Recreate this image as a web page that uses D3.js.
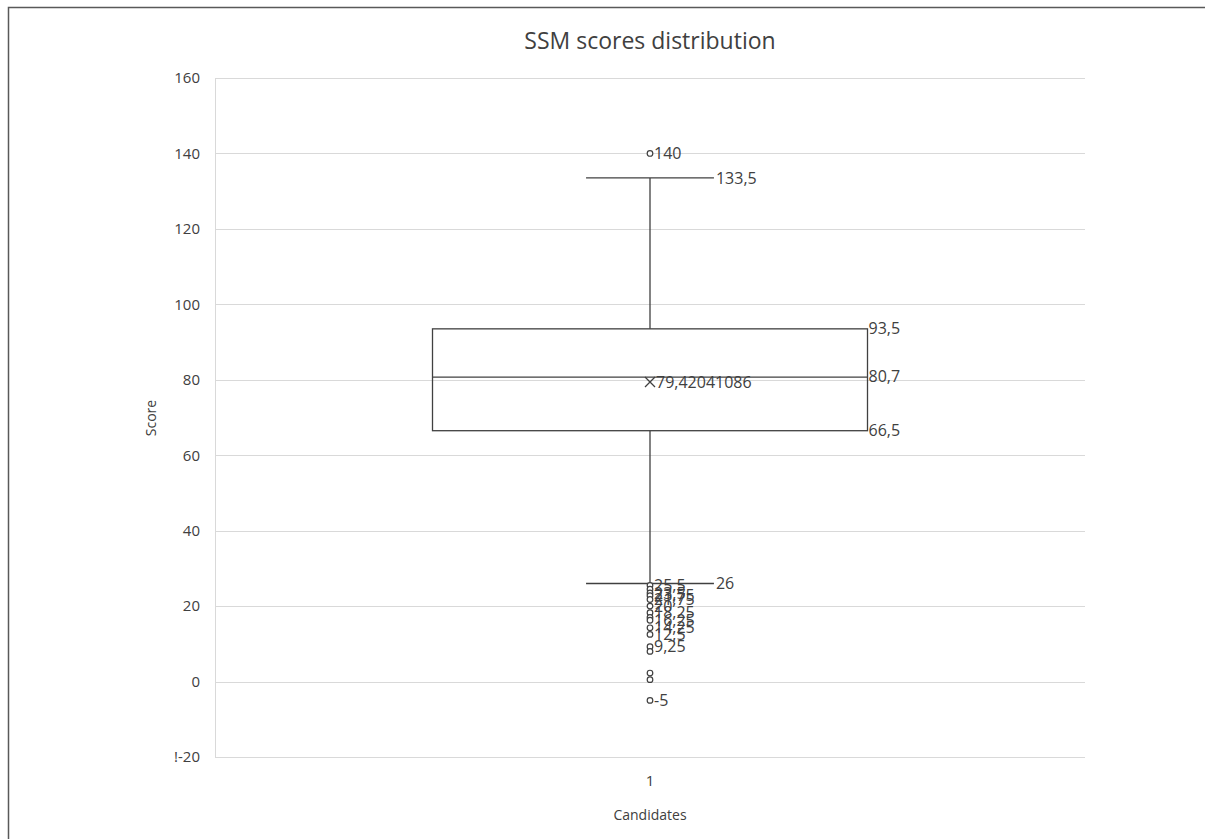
<!DOCTYPE html>
<html><head><meta charset="utf-8">
<script src="https://cdn.jsdelivr.net/npm/d3@7"></script>
<style>
body{margin:0;background:#fff;}
text{font-family:"Open Sans","Noto Sans",sans-serif;fill:#404040;}
</style></head>
<body><svg id="c" width="1205" height="839"></svg>
<script>
const categories = ["1"];
const yTickValues = [-20, 0, 20, 40, 60, 80, 100, 120, 140, 160];
const yTickLabels = ["!-20", "0", "20", "40", "60", "80", "100", "120", "140", "160"];
const q1 = [66.5], median = [80.7], q3 = [93.5];
const whiskerLow = [26], whiskerHigh = [133.5];
const mean = [79.42041086];
const outliers = [140, 25.5, 24.5, 23.5, 22.75, 21.75, 20, 18.25, 17, 16.25, 14.25, 12.5, 9.25, 8, 2.25, 0.5, -5];
const outlierLabels = ["140", "25,5", null, "23,5", "23,75", "21,75", "20", "18,25", null, "16,25", "14,25", "12,5", "9,25", null, null, null, "-5"];

const svg = d3.select("#c");
const fmt = v => String(v).replace(".", ",");
const M = {l: 215, r: 1085, t: 78, b: 757};
const x = d3.scaleBand().domain(categories).range([M.l, M.r]);
const y = d3.scaleLinear().domain([-20, 160]).range([M.b, M.t]);

// frame
svg.append("rect").attr("x", 8.5).attr("y", 7.5).attr("width", 1300).attr("height", 900)
  .attr("fill", "none").attr("stroke", "#595959").attr("stroke-width", 1.5);

// grid
svg.append("g").selectAll("line").data(yTickValues).join("line")
  .attr("x1", M.l).attr("x2", M.r)
  .attr("y1", d => Math.round(y(d)) + 0.5).attr("y2", d => Math.round(y(d)) + 0.5)
  .attr("stroke", "#d9d9d9").attr("stroke-width", 1);
svg.append("line").attr("x1", M.l + 0.5).attr("x2", M.l + 0.5).attr("y1", M.t).attr("y2", M.b)
  .attr("stroke", "#d9d9d9");

// y axis labels
const yAxis = d3.axisLeft(y).tickValues(yTickValues).tickFormat((d, i) => yTickLabels[i]).tickSize(0).tickPadding(15);
const ga = svg.append("g").attr("transform", `translate(${M.l},0)`).call(yAxis);
ga.select(".domain").remove();
ga.selectAll("text").style("font-size", "15px").attr("fill", "#404040");

// x axis label
const xAxis = d3.axisBottom(x).tickSize(0).tickPadding(18);
const gx = svg.append("g").attr("transform", `translate(0,${M.b})`).call(xAxis);
gx.select(".domain").remove();
gx.selectAll("text").style("font-size", "15px").attr("fill", "#404040");

// title + axis titles
svg.append("text").attr("x", 650).attr("y", 49).attr("text-anchor", "middle")
  .style("font-size", "23px").text("SSM scores distribution");
svg.append("text").attr("transform", "translate(156,418) rotate(-90)").attr("text-anchor", "middle")
  .style("font-size", "14px").text("Score");
svg.append("text").attr("x", 650).attr("y", 820).attr("text-anchor", "middle")
  .style("font-size", "14px").text("Candidates");

const stroke = "#404040";
const lf = "16px";
categories.forEach((c, i) => {
  const cx = x(c) + x.bandwidth() / 2;
  const bw = x.bandwidth() * 0.5;
  const cap = x.bandwidth() * 0.147;
  const g = svg.append("g");
  g.append("line").attr("x1", cx).attr("x2", cx).attr("y1", y(whiskerHigh[i])).attr("y2", y(q3[i])).attr("stroke", stroke).attr("stroke-width", 1.3);
  g.append("line").attr("x1", cx).attr("x2", cx).attr("y1", y(q1[i])).attr("y2", y(whiskerLow[i])).attr("stroke", stroke).attr("stroke-width", 1.3);
  g.append("line").attr("x1", cx - cap/2).attr("x2", cx + cap/2).attr("y1", y(whiskerHigh[i])).attr("y2", y(whiskerHigh[i])).attr("stroke", stroke).attr("stroke-width", 1.3);
  g.append("line").attr("x1", cx - cap/2).attr("x2", cx + cap/2).attr("y1", y(whiskerLow[i])).attr("y2", y(whiskerLow[i])).attr("stroke", stroke).attr("stroke-width", 1.3);
  g.append("rect").attr("x", cx - bw/2).attr("y", y(q3[i])).attr("width", bw).attr("height", y(q1[i]) - y(q3[i]))
    .attr("fill", "none").attr("stroke", stroke).attr("stroke-width", 1.3);
  g.append("line").attr("x1", cx - bw/2).attr("x2", cx + bw/2).attr("y1", y(median[i])).attr("y2", y(median[i])).attr("stroke", stroke).attr("stroke-width", 1.3);
  const my = y(mean[i]), s = 5;
  g.append("path").attr("d", `M${cx-s},${my-s}L${cx+s},${my+s}M${cx-s},${my+s}L${cx+s},${my-s}`).attr("stroke", stroke).attr("stroke-width", 1.3);
  g.append("text").attr("x", cx + 6).attr("y", my).attr("dy", "0.35em").style("font-size", lf).text(fmt(mean[i]));
  [q3[i], median[i], q1[i]].forEach(v => {
    g.append("text").attr("x", cx + bw/2 + 1).attr("y", y(v)).attr("dy", "0.3em").style("font-size", lf).text(fmt(v));
  });
  [whiskerHigh[i], whiskerLow[i]].forEach(v => {
    g.append("text").attr("x", cx + cap/2 + 2).attr("y", y(v)).attr("dy", "0.35em").style("font-size", lf).text(fmt(v));
  });
  outliers.forEach((v, k) => {
    g.append("circle").attr("cx", cx).attr("cy", y(v)).attr("r", 2.8).attr("fill", "#fff").attr("stroke", stroke).attr("stroke-width", 1.2);
    if (outlierLabels[k]) g.append("text").attr("x", cx + 4).attr("y", y(v)).attr("dy", "0.35em").style("font-size", lf).text(outlierLabels[k]);
  });
});
</script></body></html>
